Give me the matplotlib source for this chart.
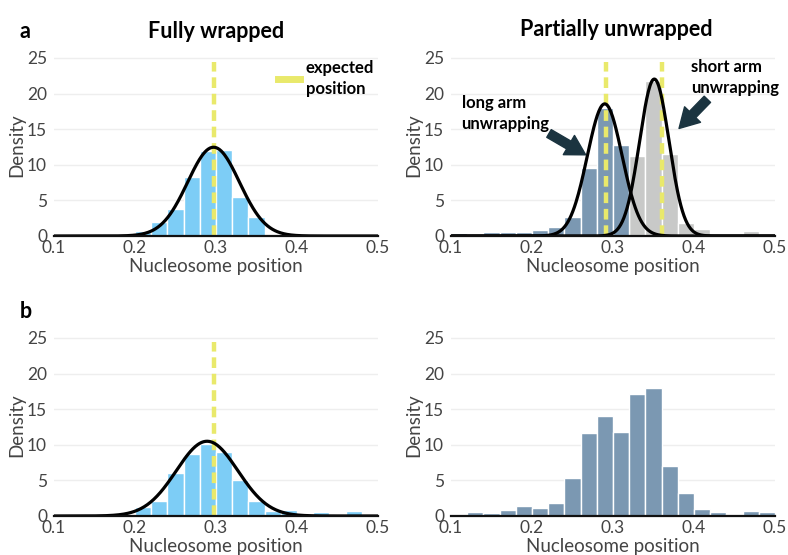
import numpy as np
import matplotlib.pyplot as plt
from matplotlib.lines import Line2D

plt.rcParams['font.family'] = ['Lato', 'DejaVu Sans']

# bin left edges, width 0.02
bin_w = 0.02
edges = np.round(np.arange(0.1, 0.5, bin_w), 2)

# a, fully wrapped
a_full = [0, 0, 0, 0, 0, 0.66, 2.0, 3.8, 8.3, 11.9, 12.1, 5.5, 2.6, 0, 0, 0, 0, 0, 0, 0]
a_full_fit = (0.297, 0.032)
a_full_expected = 0.297

# a, partially unwrapped
a_long = [0.47, 0, 0.6, 0.6, 0.6, 0.9, 1.3, 2.6, 9.6, 18.0, 12.8, 0, 0, 0, 0, 0, 0, 0, 0, 0]
a_short = [0, 0, 0, 0, 0, 0, 0, 0, 0, 0, 0.5, 11.3, 21.8, 11.5, 1.8, 1.0, 0, 0, 0.75, 0]
a_long_fit = (0.2898, 0.0215)
a_short_fit = (0.351, 0.0181)
a_partial_expected = [0.291, 0.361]

# b, fully wrapped
b_full = [0, 0, 0, 0, 0, 1.27, 2.07, 6.06, 8.74, 10.1, 9.0, 5.0, 2.1, 0.65, 0.8, 0, 0.5, 0, 0.65, 0]
b_full_fit = (0.289, 0.038)
b_full_expected = 0.297

# b, partially unwrapped
b_partial = [0, 0.56, 0.47, 0.9, 1.46, 1.08, 1.83, 5.4, 11.6, 14.05, 11.75, 17.1, 18.0, 7.05, 3.3,
             0.94, 0.52, 0.33, 0.7, 0.56]

c_blue = '#7dcdf6'
c_slate = '#7b98b2'
c_grey = '#c8c9c8'
c_yellow = '#e9e96b'
c_arrow = '#1b3440'
c_tick = '#444444'

fig = plt.figure(figsize=(7.88, 5.55), dpi=100)
W, H = 788, 555


def make_ax(x0, x1, y0):
    # pixel box -> figure fraction; ylim 0..25.6
    h = 25.6 * 7.12
    return fig.add_axes([x0 / W, 1 - y0 / H, (x1 - x0) / W, h / H])


def style(ax):
    ax.set_xlim(0.1, 0.5)
    ax.set_ylim(0, 25.6)
    ax.set_xticks([0.1, 0.2, 0.3, 0.4, 0.5])
    ax.set_xticklabels(['0.1', '0.2', '0.3', '0.4', '0.5'])
    ax.set_yticks([0, 5, 10, 15, 20, 25])
    for s in ax.spines.values():
        s.set_visible(False)
    ax.tick_params(length=0, labelsize=12.5, colors=c_tick)
    ax.tick_params(axis='y', pad=5)
    ax.tick_params(axis='x', pad=3)
    for y in [5, 10, 15, 20, 25]:
        ax.axhline(y, color='#eeeeee', lw=1, zorder=0)
    ax.axhline(0, color='#111111', lw=1.6, zorder=6, clip_on=False)
    ax.set_xlabel('Nucleosome position', fontsize=13.5, color=c_tick, labelpad=1)
    ax.set_ylabel('Density', fontsize=13.5, color=c_tick, labelpad=1)


def bars(ax, vals, color):
    ax.bar(edges, vals, width=bin_w, align='edge', color=color, edgecolor='white', lw=1, zorder=2)


def fit(ax, mu, sd):
    xs = np.linspace(0.1, 0.5, 400)
    ax.plot(xs, np.exp(-0.5 * ((xs - mu) / sd) ** 2) / (sd * np.sqrt(2 * np.pi)),
            color='black', lw=2.3, zorder=5)


def expected(ax, x):
    ax.plot([x, x], [0, 24.5], color=c_yellow, lw=3.2, dashes=(2.4, 1.3), zorder=4)


ax1 = make_ax(54, 378, 236)
ax2 = make_ax(451, 775, 236)
ax3 = make_ax(54, 378, 516)
ax4 = make_ax(451, 775, 516)
for ax in [ax1, ax2, ax3, ax4]:
    style(ax)

bars(ax1, a_full, c_blue)
expected(ax1, a_full_expected)
fit(ax1, *a_full_fit)
ax1.legend(handles=[Line2D([], [], color=c_yellow, lw=5)], labels=['expected\nposition'],
           loc='upper right', bbox_to_anchor=(1.035, 1.05), frameon=False,
           handlelength=1.3, handletextpad=0.35, prop={'weight': 'bold', 'size': 12})
for t in ax1.get_legend().get_texts():
    t.set_linespacing(1.4)

bars(ax2, a_short, c_grey)
bars(ax2, a_long, c_slate)
for x in a_partial_expected:
    expected(ax2, x)
fit(ax2, *a_long_fit)
fit(ax2, *a_short_fit)

arr = dict(arrowstyle='simple,head_length=0.7,head_width=0.8,tail_width=0.32',
           color=c_arrow, mutation_scale=20, shrinkA=0, shrinkB=0)
ax2.annotate('', xy=(0.2663, 11.4), xytext=(0.221, 14.4), arrowprops=arr, zorder=7)
ax2.annotate('', xy=(0.3815, 15.1), xytext=(0.4165, 19.2), arrowprops=arr, zorder=7)
ax2.text(0.113, 17.2, 'long arm\nunwrapping', fontsize=12, fontweight='bold', ha='left',
         va='center', linespacing=1.4, zorder=8)
ax2.text(0.396, 22.25, 'short arm\nunwrapping', fontsize=12, fontweight='bold', ha='left',
         va='center', linespacing=1.4, zorder=8, clip_on=False)

bars(ax3, b_full, c_blue)
expected(ax3, b_full_expected)
fit(ax3, *b_full_fit)

bars(ax4, b_partial, c_slate)

fig.text(216 / W, 1 - 32 / H, 'Fully wrapped', fontsize=15.5, fontweight='bold', ha='center', va='center')
fig.text(616 / W, 1 - 30 / H, 'Partially unwrapped', fontsize=15.5, fontweight='bold', ha='center', va='center')
fig.text(20 / W, 1 - 32 / H, 'a', fontsize=15.5, fontweight='bold', ha='left', va='center')
fig.text(20 / W, 1 - 311 / H, 'b', fontsize=15.5, fontweight='bold', ha='left', va='center')

fig.savefig('out.png', dpi=100, facecolor='white')
